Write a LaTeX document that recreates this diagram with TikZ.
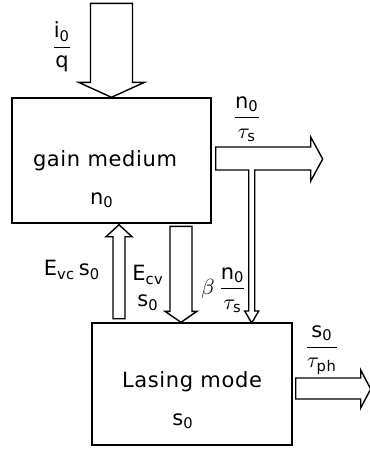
\documentclass[tikz,border=0pt]{standalone}
\usepackage{amsmath}
\usepackage{fontspec}
\setmainfont[LetterSpace=3]{DejaVu Sans}
\usepackage{tikz}
\usetikzlibrary{calc}

\begin{document}
\begin{tikzpicture}[x=0.5pt,y=-0.5pt,line width=0.7pt,
  box/.style={draw,inner sep=0pt},
  fat/.style={draw,line join=miter},
  lbl/.style={inner sep=0pt,font=\fontsize{10.5}{13}\selectfont}]
  \useasboundingbox (0,0) rectangle (370,451);
  \node[box,minimum width=99.5pt,minimum height=62.5pt] (gain) at (111.5,160.5) {};
  \node[box,minimum width=100pt,minimum height=61pt] (lasing) at (192,384) {};
  \node[lbl] (gaintxt) at (105,161) {gain medium};
  \node[lbl] (gainn) at (102,200) {$\text{n}_{\text{0}}$};
  \node[lbl] (lasetxt) at (192,382) {Lasing mode};
  \node[lbl] (lases) at (183,421) {$\text{s}_{\text{0}}$};
  \draw[fat] (gain.north) -- ++(-33,-15) -- ++(12,0) -- ++(0,-79) -- ++(42,0) -- ++(0,79) -- ++(12,0) -- cycle;
  \draw[fat] ($(gain.south)+(7.5,1)$) -- ++(-13,12) -- ++(7,0) -- ++(0,82) -- ++(12,0) -- ++(0,-82) -- ++(7,0) -- cycle;
  \draw[fat] ($(lasing.north)+(-11,0)$) -- ++(-16,-11) -- ++(5,0) -- ++(0,-85) -- ++(22,0) -- ++(0,85) -- ++(5,0) -- cycle;
  \draw[fat] ($(gain.east)+(4,-13.5)$) -- ++(95,0) -- ++(0,-10) -- ++(12,22) -- ++(-12,22) -- ++(0,-11) -- ++(-56,0)
    -- ++(0,141) -- ++(4,0) -- ++(-7,12) -- ++(-7,-12) -- ++(4,0) -- ++(0,-141) -- ++(-33,0) -- cycle;
  \draw[fat] ($(lasing.east)+(3,-6)$) -- ++(65,0) -- ++(0,-8) -- ++(10,19) -- ++(-10,19) -- ++(0,-9) -- ++(-65,0) -- cycle;
  \node[lbl] (inlbl) at (62,47) {$\dfrac{\text{i}_{\text{0}}}{\text{q}}$};
  \node[lbl] (outn) at (247,119) {$\dfrac{\text{n}_{\text{0}}}{\tau_{\text{s}}}$};
  \node[lbl] (evc) at (72,270) {$\text{E}_{\text{vc}}\,\text{s}_{\text{0}}$};
  \node[lbl,align=center] (ecv) at (148,288) {$\text{E}_{\text{cv}}$\\$\text{s}_{\text{0}}$};
  \node[lbl] (beta) at (224,290) {$\beta\,\dfrac{\text{n}_{\text{0}}}{\tau_{\text{s}}}$};
  \node[lbl] (outs) at (322,350) {$\dfrac{\text{s}_{\text{0}}}{\tau_{\text{ph}}}$};
\end{tikzpicture}
\end{document}
